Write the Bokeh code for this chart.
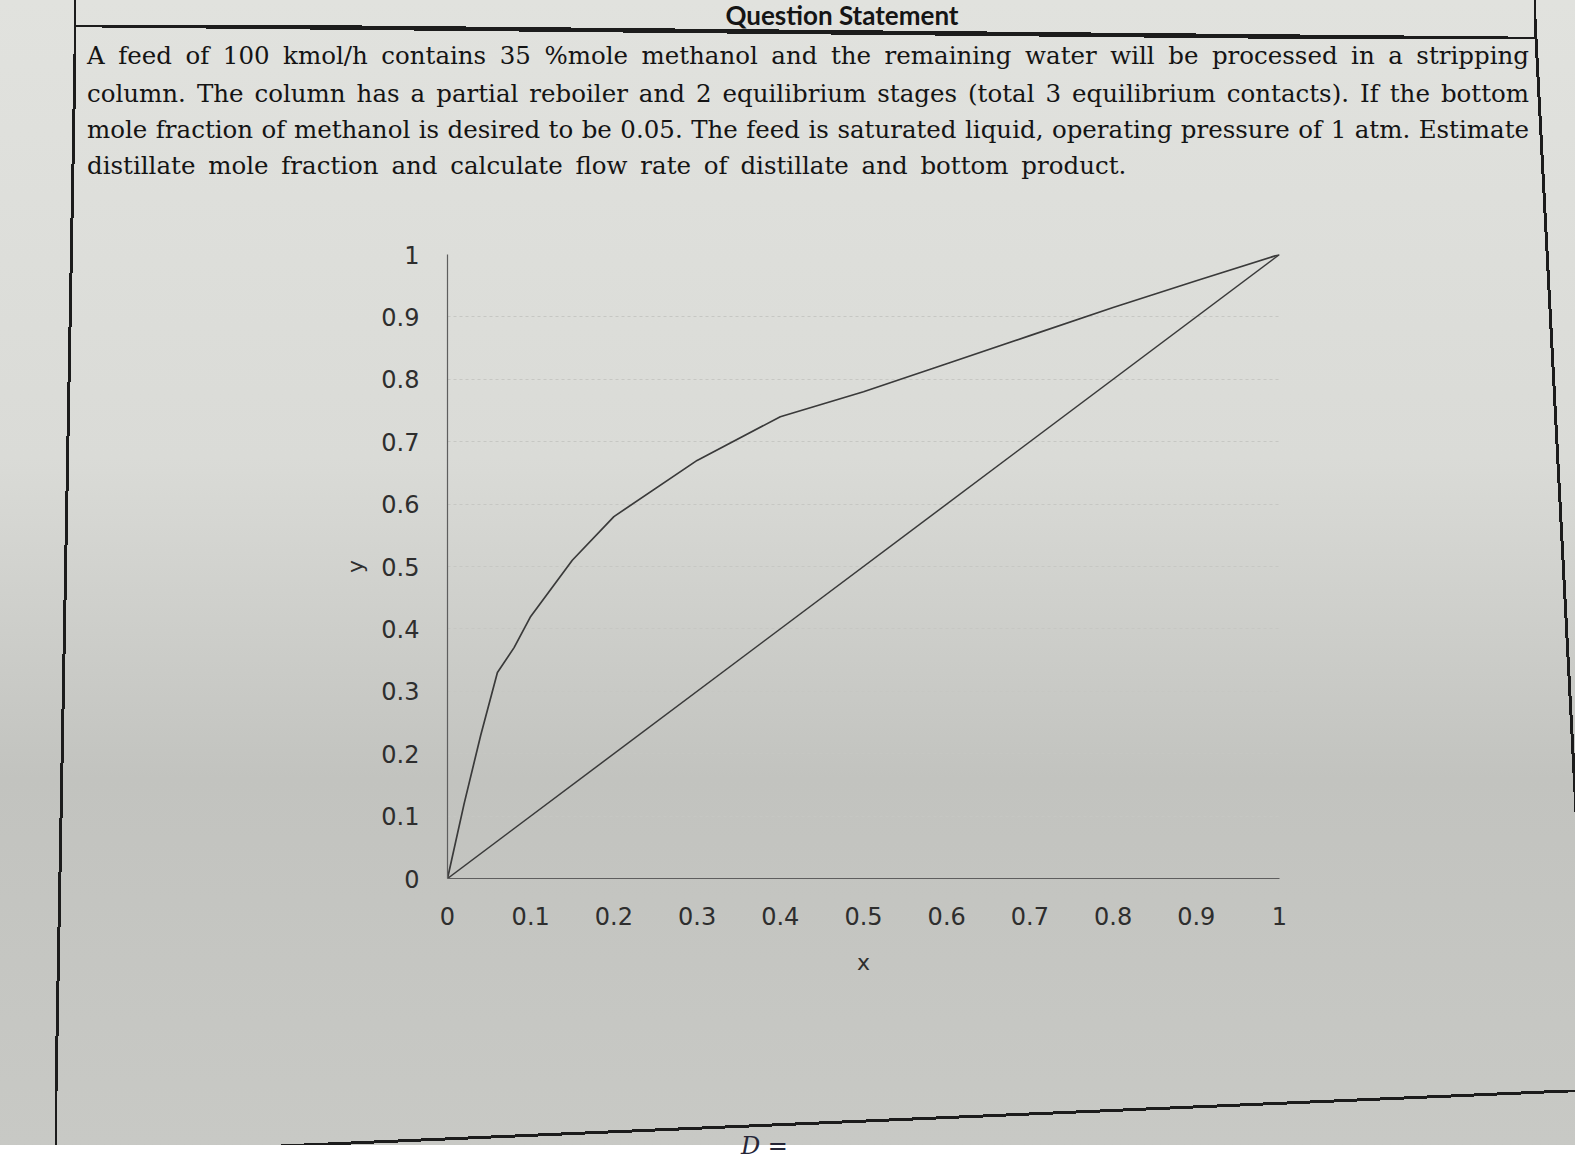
from bokeh.plotting import figure
from bokeh.models import Div, Range1d, FixedTicker
from bokeh.layouts import column
from bokeh.embed import file_html
from bokeh.resources import INLINE

# ---------------- data ----------------
question_title = "Question Statement"
question_lines = [
    "A feed of 100 kmol/h contains 35 %mole methanol and the remaining water will be processed in a stripping",
    "column. The column has a partial reboiler and 2 equilibrium stages (total 3 equilibrium contacts). If the bottom",
    "mole fraction of methanol is desired to be 0.05. The feed is saturated liquid, operating pressure of 1 atm. Estimate",
    "distillate mole fraction and calculate flow rate of distillate and bottom product.",
]
handwritten_note = "D ="

# methanol-water equilibrium curve
eq_x = [0.0, 0.02, 0.04, 0.06, 0.08, 0.10, 0.15, 0.20, 0.30, 0.40, 0.50, 0.60, 0.70, 0.80, 0.90, 1.0]
eq_y = [0.0, 0.12, 0.23, 0.33, 0.37, 0.42, 0.51, 0.58, 0.67, 0.74, 0.78, 0.825, 0.87, 0.915, 0.958, 1.0]

# diagonal y = x
diag_x = [0.0, 1.0]
diag_y = [0.0, 1.0]

x_ticks = [0.0, 0.1, 0.2, 0.3, 0.4, 0.5, 0.6, 0.7, 0.8, 0.9, 1.0]
x_tick_labels = ["0", "0.1", "0.2", "0.3", "0.4", "0.5", "0.6", "0.7", "0.8", "0.9", "1"]
y_ticks = [0.0, 0.1, 0.2, 0.3, 0.4, 0.5, 0.6, 0.7, 0.8, 0.9, 1.0]
y_tick_labels = ["0", "0.1", "0.2", "0.3", "0.4", "0.5", "0.6", "0.7", "0.8", "0.9", "1"]
x_title = "x"
y_title = "y"

# ---------------- header (question statement) ----------------
W = 1575
H = 1145
HEAD_H = 200
FIG_H = 920
FOOT_H = H - HEAD_H - FIG_H

line_tops = [33, 71, 107, 143]
parts = []
parts.append(
    f'<div style="position:absolute;left:0;top:-3px;width:1674px;text-align:center;'
    f'font-family:Lato;font-weight:bold;font-size:26px;line-height:26px;color:#151515;">{question_title}</div>'
)
for i, (txt, top) in enumerate(zip(question_lines, line_tops)):
    is_last = i == len(question_lines) - 1
    last = "left" if is_last else "justify"
    extra = "word-spacing:5px;" if is_last else ""
    parts.append(
        f'<div style="position:absolute;left:82px;top:{top}px;width:1442px;'
        f'font-family:\'DejaVu Serif\';font-size:24.5px;line-height:36px;color:#141414;'
        f'text-align:justify;text-align-last:{last};white-space:nowrap;{extra}">{txt}</div>'
    )
html = f'<div style="position:relative;width:{W}px;height:{HEAD_H}px;">' + "".join(parts) + "</div>"
header = Div(text=html, width=W, height=HEAD_H, styles={"overflow": "visible"})

foot_html = (
    f'<div style="position:relative;width:{W}px;height:{FOOT_H}px;">'
    f'<div style="position:absolute;left:736px;top:-2px;font-family:\'DejaVu Serif\';font-style:italic;'
    f'font-size:24px;line-height:26px;color:#262636;">{handwritten_note}</div></div>'
)
footer = Div(text=foot_html, width=W, height=FOOT_H, styles={"overflow": "visible"})

# ---------------- chart ----------------
p = figure(
    width=W, height=FIG_H,
    x_range=Range1d(0, 1), y_range=Range1d(0, 1),
    output_backend="svg", toolbar_location=None,
    min_border_left=447, min_border_right=296,
    min_border_top=44, min_border_bottom=FIG_H - 44 - 624,
    background_fill_alpha=0, border_fill_alpha=0,
    outline_line_color=None,
)

p.line(eq_x, eq_y, line_color="#3a3a3a", line_width=1.7)
p.line(diag_x, diag_y, line_color="#3a3a3a", line_width=1.5)

p.xgrid.visible = False
p.ygrid.ticker = FixedTicker(ticks=y_ticks)
p.ygrid.grid_line_color = "#c6c7c3"
p.ygrid.grid_line_dash = "3 3"
p.ygrid.grid_line_width = 1

p.xaxis.ticker = FixedTicker(ticks=x_ticks)
p.yaxis.ticker = FixedTicker(ticks=y_ticks)
p.xaxis.major_label_overrides = dict(zip(x_ticks, x_tick_labels))
p.yaxis.major_label_overrides = dict(zip(y_ticks, y_tick_labels))

for ax in (p.xaxis, p.yaxis):
    ax.major_tick_line_color = None
    ax.minor_tick_line_color = None
    ax.axis_line_color = "#5e5e5e"
    ax.axis_line_width = 1.2
    ax.major_label_text_font = "DejaVu Sans"
    ax.major_label_text_font_size = "24px"
    ax.major_label_text_color = "#2e2e2e"
    ax.axis_label_text_font = "DejaVu Sans"
    ax.axis_label_text_font_size = "22px"
    ax.axis_label_text_font_style = "normal"
    ax.axis_label_text_color = "#2e2e2e"

p.xaxis.axis_label = x_title
p.yaxis.axis_label = y_title
p.xaxis.major_label_standoff = 22
p.yaxis.major_label_standoff = 22
p.xaxis.axis_label_standoff = 22
p.yaxis.axis_label_standoff = 10

def slant(direction, w):
    c = "#1c1c1c"
    return (f"linear-gradient({direction}, transparent calc(50% - {w/2}px), {c} calc(50% - {w/2}px), "
            f"{c} calc(50% + {w/2}px), transparent calc(50% + {w/2}px))")

bg = ", ".join([
    slant("to bottom right", 3) + " 55px 0px / 21px 1145px no-repeat",      # left frame line
    slant("to top right", 3) + " 1534px 0px / 56px 1082px no-repeat",       # right frame line
    slant("to top right", 4.5) + " 76px 25px / 1458px 14px no-repeat",      # header rule
    slant("to bottom right", 3) + " 0px 1090px / 1591px 68px no-repeat",    # bottom rule
    "linear-gradient(180deg, #e1e2de 0%, #dadbd7 40%, #c2c3bf 68%, #c8c9c5 100%)",
])

layout = column(header, p, footer, width=W, height=H, spacing=0, styles={"background": bg})

open("out.html", "w").write(file_html(layout, INLINE))
